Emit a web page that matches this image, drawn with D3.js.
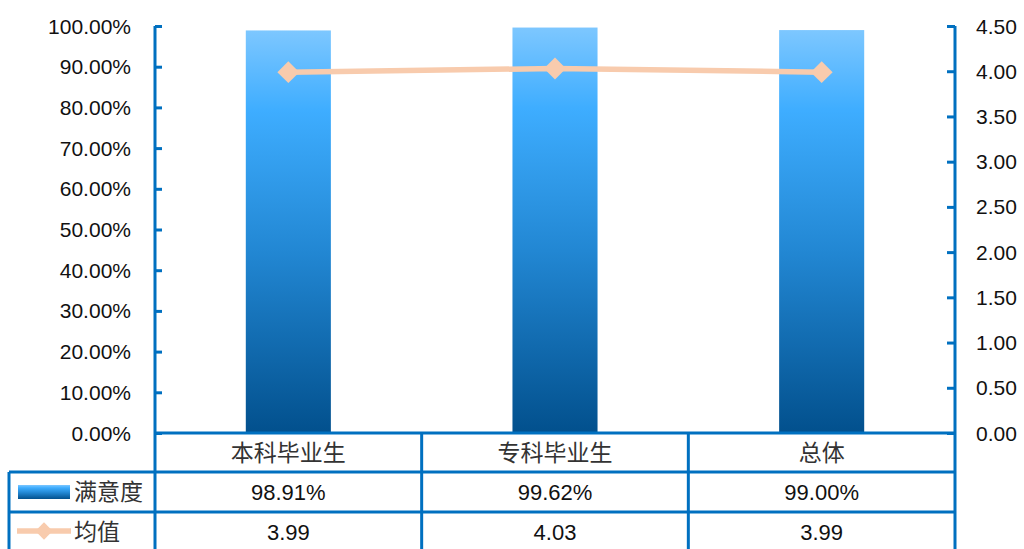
<!DOCTYPE html>
<meta charset="utf-8">
<script src="https://d3js.org/d3.v7.min.js"></script>
<style>
  body { margin: 0; background: #fff; }
  text { font-family: "Liberation Sans", "Noto Sans CJK SC", sans-serif; }
  .cjk { font-family: "Noto Sans CJK SC", sans-serif; }
</style>
<body>
<div id="chart"></div>
<script>
// data
var categories = ["本科毕业生", "专科毕业生", "总体"];
var satisfaction = [98.91, 99.62, 99.00];   // 满意度, %
var meanScore = [3.99, 4.03, 3.99];         // 均值
var leftTicks = [0, 10, 20, 30, 40, 50, 60, 70, 80, 90, 100];
var rightTicks = [0, 0.5, 1, 1.5, 2, 2.5, 3, 3.5, 4, 4.5];
var satisfactionLabels = ["98.91%", "99.62%", "99.00%"];
var meanLabels = ["3.99", "4.03", "3.99"];

var W = 1024, H = 549;
var plotLeft = 155, plotRight = 955, plotTop = 26, plotBottom = 433;
var rowY = [433, 472, 512, 552];
var tableLeft = 9;
var blue = "#0070C0";
var peach = "#F8CBAD";

var svg = d3.select("#chart").append("svg")
  .attr("width", W).attr("height", H);

// gradient for the bars
var defs = svg.append("defs");
var grad = defs.append("linearGradient").attr("id", "barGrad")
  .attr("x1", 0).attr("y1", 0).attr("x2", 0).attr("y2", 1);
grad.append("stop").attr("offset", "0%").attr("stop-color", "#7DC7FF");
grad.append("stop").attr("offset", "20%").attr("stop-color", "#3EADFF");
grad.append("stop").attr("offset", "55%").attr("stop-color", "#2287D3");
grad.append("stop").attr("offset", "100%").attr("stop-color", "#02508D");

// scales
var x = d3.scaleBand().domain(categories).range([plotLeft, plotRight]);
var xBar = d3.scaleBand().domain(categories).range([plotLeft, plotRight])
  .paddingInner(0.681).paddingOuter(0.3405);
var yL = d3.scaleLinear().domain([0, 100]).range([plotBottom, plotTop]);
var yR = d3.scaleLinear().domain([0, 4.5]).range([plotBottom, plotTop]);

// bars
svg.append("g").selectAll("rect")
  .data(satisfaction)
  .enter().append("rect")
  .attr("x", function (d, i) { return xBar(categories[i]); })
  .attr("y", function (d) { return yL(d); })
  .attr("width", xBar.bandwidth())
  .attr("height", function (d) { return yL(0) - yL(d); })
  .attr("fill", "url(#barGrad)");

// line + diamonds
var cx = function (i) { return x(categories[i]) + x.bandwidth() / 2; };
var line = d3.line()
  .x(function (d, i) { return cx(i); })
  .y(function (d) { return yR(d); });
svg.append("path")
  .datum(meanScore)
  .attr("d", line)
  .attr("fill", "none")
  .attr("stroke", peach)
  .attr("stroke-width", 5.5);
var diamond = d3.symbol().type(d3.symbolSquare).size(240);
svg.append("g").selectAll("path")
  .data(meanScore)
  .enter().append("path")
  .attr("d", diamond)
  .attr("transform", function (d, i) { return "translate(" + cx(i) + "," + yR(d) + ") rotate(45)"; })
  .attr("fill", peach);

// left axis (ticks pointing inward)
var axL = svg.append("g")
  .attr("transform", "translate(" + plotLeft + ",0)")
  .call(d3.axisRight(yL).tickValues(leftTicks).tickSize(7).tickFormat(""));
axL.selectAll("line, path").attr("stroke", blue).attr("stroke-width", 3);
axL.select(".domain").attr("d", "M0," + plotTop + "V" + H);
svg.append("g").selectAll("text")
  .data(leftTicks)
  .enter().append("text")
  .attr("x", 131)
  .attr("y", function (d) { return yL(d); })
  .attr("dy", "0.36em")
  .attr("text-anchor", "end")
  .attr("font-size", 21)
  .attr("fill", "#111")
  .text(function (d) { return d.toFixed(2) + "%"; });

// right axis
var axR = svg.append("g")
  .attr("transform", "translate(" + plotRight + ",0)")
  .call(d3.axisLeft(yR).tickValues(rightTicks).tickSize(8).tickFormat(""));
axR.selectAll("line, path").attr("stroke", blue).attr("stroke-width", 3);
axR.select(".domain").attr("d", "M0," + plotTop + "V" + H);
svg.append("g").selectAll("text")
  .data(rightTicks)
  .enter().append("text")
  .attr("x", 976)
  .attr("y", function (d) { return yR(d); })
  .attr("dy", "0.36em")
  .attr("font-size", 21)
  .attr("fill", "#111")
  .text(function (d) { return d.toFixed(2); });

// data table grid
var grid = svg.append("g").attr("stroke", blue).attr("stroke-width", 3).attr("fill", "none");
grid.append("line").attr("x1", plotLeft).attr("x2", plotRight).attr("y1", rowY[0]).attr("y2", rowY[0]);
[rowY[1], rowY[2], rowY[3]].forEach(function (yy) {
  grid.append("line").attr("x1", tableLeft).attr("x2", plotRight).attr("y1", yy).attr("y2", yy);
});
grid.append("line").attr("x1", tableLeft).attr("x2", tableLeft).attr("y1", rowY[1]).attr("y2", H);
categories.slice(1).forEach(function (c) {
  grid.append("line").attr("x1", x(c)).attr("x2", x(c)).attr("y1", rowY[0]).attr("y2", H);
});

// table texts
function rowText(labels, r, cls) {
  svg.append("g").selectAll("text")
    .data(labels)
    .enter().append("text")
    .attr("class", cls)
    .attr("x", function (d, i) { return cx(i); })
    .attr("y", (rowY[r] + rowY[r + 1]) / 2)
    .attr("dy", "0.36em")
    .attr("text-anchor", "middle")
    .attr("font-size", cls ? 23 : 22)
    .attr("fill", cls ? "#333" : "#111")
    .text(function (d) { return d; });
}
rowText(categories, 0, "cjk");
rowText(satisfactionLabels, 1, null);
rowText(meanLabels, 2, null);

// legend keys in the table
var ly1 = (rowY[1] + rowY[2]) / 2, ly2 = (rowY[2] + rowY[3]) / 2 - 1;
svg.append("rect")
  .attr("x", 18).attr("y", ly1 - 7).attr("width", 52).attr("height", 14)
  .attr("fill", "url(#barGrad)");
svg.append("line")
  .attr("x1", 17).attr("x2", 71).attr("y1", ly2).attr("y2", ly2)
  .attr("stroke", peach).attr("stroke-width", 5.5);
svg.append("path")
  .attr("d", d3.symbol().type(d3.symbolSquare).size(150))
  .attr("transform", "translate(44," + ly2 + ") rotate(45)")
  .attr("fill", peach);
svg.append("text").attr("class", "cjk")
  .attr("x", 74).attr("y", ly1).attr("dy", "0.36em")
  .attr("font-size", 23).attr("fill", "#333").text("满意度");
svg.append("text").attr("class", "cjk")
  .attr("x", 74).attr("y", ly2 + 1).attr("dy", "0.36em")
  .attr("font-size", 23).attr("fill", "#333").text("均值");
</script>
</body>
